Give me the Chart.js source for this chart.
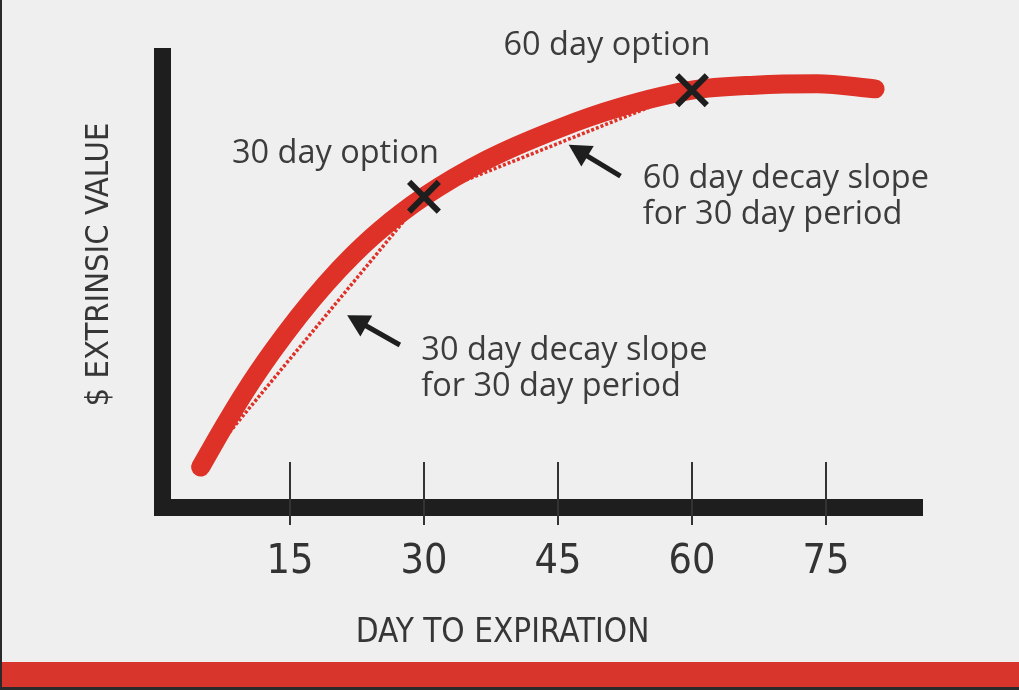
<!DOCTYPE html>
<html>
<head>
<meta charset="utf-8">
<title>Extrinsic value decay</title>
<script src="https://cdn.jsdelivr.net/npm/chart.js@4.4.1/dist/chart.umd.min.js"></script>
<style>
    html, body { margin: 0; padding: 0; background: #efefef; }
    #frame { position: relative; width: 1019px; height: 690px; overflow: hidden; background: #efefef; }
    #plot { position: absolute; left: 0; top: 0; width: 1019px; height: 662px; }
    #bar { position: absolute; left: 0; top: 662px; width: 1019px; height: 25px; background: #d8362c; }
    #frame::after { content: ''; position: absolute; inset: 0; border-left: 2px solid #2a2a2a; border-bottom: 3px solid #2a2a2a; pointer-events: none; }
</style>
</head>
<body>
<div id="frame">
    <div id="plot"><canvas id="decay"></canvas></div>
    <div id="bar"></div>
</div>
<script>
// days to expiration and extrinsic value
const days = [5, 7.5, 10, 13, 16, 19, 22, 25, 30, 37, 45, 52, 60, 67, 74, 80.5]
const extrinsic = [8.7, 17.2, 25.2, 33.8, 41.6, 48.6, 54.8, 60.2, 67.6, 75.6, 82.4, 87.1, 90.8, 91.9, 92.2, 91.1]

// the two options marked with an X
const optionDays = [30, 60]
const optionValues = [67.6, 90.8]

// dotted decay slopes
const slope30Days = [5, 30]
const slope30Values = [8.7, 67.6]
const slope60Days = [30, 60]
const slope60Values = [67.6, 90.8]

const xTicks = [15, 30, 45, 60, 75]
const xTitle = 'DAY TO EXPIRATION'
const yTitle = '$ EXTRINSIC VALUE'

// callouts, placed in chart units
const notes = [
    {lines: ['30 day option'], day: 8.5, value: 74.9},
    {lines: ['60 day option'], day: 38.9, value: 98.5},
    {lines: ['60 day decay slope', 'for 30 day period'], day: 54.5, value: 69.5},
    {lines: ['30 day decay slope', 'for 30 day period'], day: 29.7, value: 32.0},
]
const arrows = [
    {from: [52.0, 72.1], to: [46.2, 78.9]},
    {from: [27.3, 35.3], to: [21.4, 41.8]},
]

const red = '#de3127'
const ink = '#1e1e1e'
const narrow = '"Liberation Sans Narrow", "DejaVu Sans Condensed", sans-serif'

const toPoints = (xs, ys) => xs.map((x, i) => ({x: x, y: ys[i]}))

const sketch = {
    id: 'sketch',
    beforeDatasetsDraw(chart) {
        const {ctx, chartArea, scales: {x}} = chart
        ctx.save()
        ctx.strokeStyle = '#333'
        ctx.lineWidth = 2
        xTicks.forEach(t => {
            const px = Math.round(x.getPixelForValue(t))
            ctx.beginPath()
            ctx.moveTo(px, chartArea.bottom - 45)
            ctx.lineTo(px, chartArea.bottom + 18)
            ctx.stroke()
        })
        ctx.restore()
    },
    afterDatasetsDraw(chart) {
        const {ctx, chartArea, scales: {x, y}} = chart
        ctx.save()

        ctx.fillStyle = '#3c3c3c'
        ctx.font = '32.5px "Open Sans", sans-serif'
        ctx.textBaseline = 'alphabetic'
        notes.forEach(n => {
            n.lines.forEach((line, i) => {
                ctx.fillText(line, x.getPixelForValue(n.day), y.getPixelForValue(n.value) + i * 36)
            })
        })

        ctx.fillStyle = ink
        ctx.strokeStyle = ink
        arrows.forEach(a => {
            const x1 = x.getPixelForValue(a.from[0]), y1 = y.getPixelForValue(a.from[1])
            const x2 = x.getPixelForValue(a.to[0]), y2 = y.getPixelForValue(a.to[1])
            const ang = Math.atan2(y2 - y1, x2 - x1)
            const len = 22, half = 12
            const bx = x2 - len * Math.cos(ang), by = y2 - len * Math.sin(ang)
            ctx.lineWidth = 5
            ctx.beginPath()
            ctx.moveTo(x1, y1)
            ctx.lineTo(bx + 4 * Math.cos(ang), by + 4 * Math.sin(ang))
            ctx.stroke()
            ctx.beginPath()
            ctx.moveTo(x2, y2)
            ctx.lineTo(bx + half * Math.sin(ang), by - half * Math.cos(ang))
            ctx.lineTo(bx - half * Math.sin(ang), by + half * Math.cos(ang))
            ctx.closePath()
            ctx.fill()
        })

        ctx.fillStyle = '#363636'
        ctx.textAlign = 'center'
        ctx.textBaseline = 'middle'
        ctx.font = '33px ' + narrow
        ctx.fillText(xTitle, chartArea.left + 340, chartArea.bottom + 126)
        ctx.font = '32.5px ' + narrow
        ctx.translate(chartArea.left - 63, chartArea.top + 208)
        ctx.rotate(-Math.PI / 2)
        ctx.fillText(yTitle, 0, 0)

        ctx.restore()
    }
}

new Chart(document.getElementById('decay'), {
    type: 'line',
    data: {
        datasets: [
            {
                label: 'Option',
                data: toPoints(optionDays, optionValues),
                showLine: false,
                pointStyle: 'crossRot',
                pointRadius: 21,
                pointBorderWidth: 6,
                pointBorderColor: ink,
                clip: false,
                order: 0
            },
            {
                label: '60 day decay slope',
                data: toPoints(slope60Days, slope60Values),
                borderColor: red,
                borderWidth: 3.5,
                borderDash: [3, 2],
                pointRadius: 0,
                clip: false,
                order: 1
            },
            {
                label: '30 day decay slope',
                data: toPoints(slope30Days, slope30Values),
                borderColor: red,
                borderWidth: 3.5,
                borderDash: [3, 2],
                pointRadius: 0,
                clip: false,
                order: 1
            },
            {
                label: 'Extrinsic value',
                data: toPoints(days, extrinsic),
                borderColor: red,
                borderWidth: 19,
                borderCapStyle: 'round',
                borderJoinStyle: 'round',
                cubicInterpolationMode: 'monotone',
                pointRadius: 0,
                clip: false,
                order: 2
            }
        ]
    },
    options: {
        responsive: true,
        maintainAspectRatio: false,
        animation: false,
        events: [],
        layout: {padding: {top: 56.5, right: 97, bottom: 0, left: 0}},
        plugins: {
            legend: {display: false},
            tooltip: {enabled: false}
        },
        scales: {
            x: {
                type: 'linear',
                min: 0.73,
                max: 85.75,
                afterBuildTicks: s => { s.ticks = xTicks.map(v => ({value: v})) },
                afterFit: s => { s.height = 155 },
                grid: {display: false, drawTicks: false},
                border: {display: true, width: 17, color: ink},
                ticks: {padding: 31, color: '#333', font: {family: narrow, size: 41}}
            },
            y: {
                type: 'linear',
                min: 0,
                max: 98.15,
                afterFit: s => { s.width = 162.5 },
                grid: {display: false, drawTicks: false},
                border: {display: true, width: 17, color: ink},
                ticks: {display: false}
            }
        }
    },
    plugins: [sketch]
})
</script>
</body>
</html>
